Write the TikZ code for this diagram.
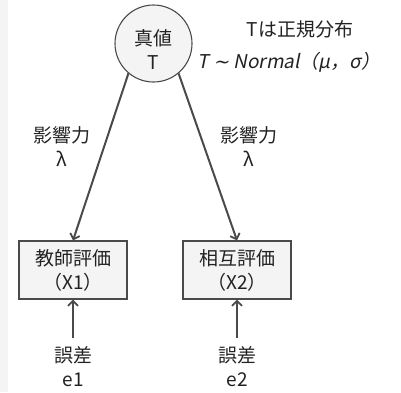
\documentclass[tikz,border=0pt]{standalone}
\usepackage{fontspec}
\setmainfont{Noto Sans CJK JP}
\newfontfamily\cjkit[FakeSlant=0.2]{Noto Sans CJK JP}
\newfontfamily\symit[FakeSlant=0.2]{DejaVu Sans}
\usetikzlibrary{arrows.meta}
\definecolor{lineg}{HTML}{4A4A4A}
\definecolor{fillg}{HTML}{F4F4F4}
\definecolor{txt}{HTML}{222222}
\tikzset{
  txtstyle/.style={text=txt, font=\fontsize{19}{24}\selectfont, align=center, inner sep=0pt},
  varbox/.style={draw=lineg, fill=fillg, line width=1.1pt, minimum width=108pt, minimum height=58pt, inner sep=0pt, text=txt, font=\fontsize{19}{24}\selectfont, align=center},
  latent/.style={draw=lineg, fill=fillg, line width=1.1pt, circle, minimum size=77pt, inner sep=0pt},
  arr/.style={draw=lineg, line width=2pt, -{Straight Barb[length=5pt,width=10pt,line width=1.8pt]}}
}
\begin{document}
\begin{tikzpicture}[x=1pt,y=-1pt]
\useasboundingbox (0,0) rectangle (401,392);
\fill[fillg] (0,0) rectangle (8,392);
\node[latent] (T) at (153.5,43.5) {};
\node[txtstyle] (Tlab) at (153.5,50) {真値\\T};
\node[txtstyle] (dist) at (300,29.5) {Tは正規分布};
\node[txtstyle] (norm) at (289,62) {\cjkit T {\symit ∼} Normal（μ，σ）};
\node[varbox] (X1) at (73,270) {教師評価\\（X1）};
\node[varbox] (X2) at (237,270) {相互評価\\（X2）};
\node[txtstyle] (l1) at (61.5,147) {影響力\\λ};
\node[txtstyle] (l2) at (248.5,147) {影響力\\λ};
\node[txtstyle] (e1) at (73.5,367) {誤差\\e1};
\node[txtstyle] (e2) at (237.5,367) {誤差\\e2};
\coordinate (e1top) at (73,338);
\coordinate (e2top) at (237,338);
\draw[arr] (T.230) -- (X1.north);
\draw[arr] (T.310) -- (X2.north);
\draw[arr] (e1top) -- (X1.south);
\draw[arr] (e2top) -- (X2.south);
\end{tikzpicture}
\end{document}
